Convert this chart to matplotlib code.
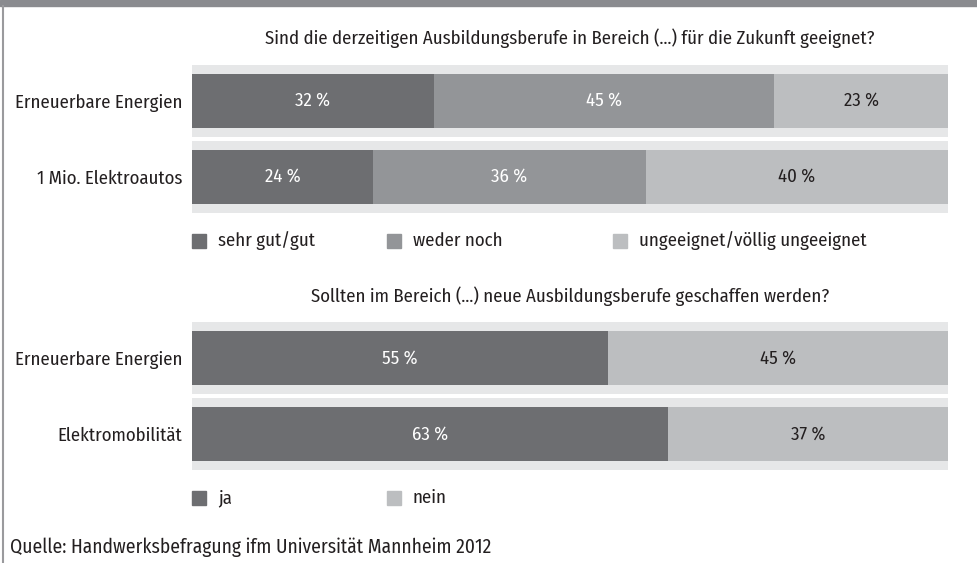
import matplotlib.pyplot as plt
from matplotlib.patches import Rectangle
from matplotlib.lines import Line2D

plt.rcParams['font.family'] = ['Fira Sans Condensed', 'PT Sans Narrow', 'Roboto Condensed', 'DejaVu Sans']

# =========================
# Daten
# =========================

title_top = "Sind die derzeitigen Ausbildungsberufe in Bereich (...) für die Zukunft geeignet?"
cats_top = ["Erneuerbare Energien", "1 Mio. Elektroautos"]
gut = [32, 24]
weder = [45, 36]
ungeeignet = [23, 40]
legend_top = ["sehr gut/gut", "weder noch", "ungeeignet/völlig ungeeignet"]

title_bot = "Sollten im Bereich (...) neue Ausbildungsberufe geschaffen werden?"
cats_bot = ["Erneuerbare Energien", "Elektromobilität"]
ja = [55, 63]
nein = [45, 37]
legend_bot = ["ja", "nein"]

source = "Quelle: Handwerksbefragung ifm Universität Mannheim 2012"

# Farben
c_dark = "#6d6e71"
c_mid = "#939598"
c_light = "#bcbec0"
c_bg = "#e6e7e8"
c_text = "#231f20"

FS = 13.5

W, H = 977, 563
fig = plt.figure(figsize=(W / 100, H / 100), dpi=100)
fig.patch.set_facecolor("white")

# Rahmen oben und links
fig.patches.append(Rectangle((0, 1 - 6 / H), 1, 6 / H, transform=fig.transFigure,
                             color="#8a8b8f", zorder=0))
fig.lines.append(Line2D([3 / W, 3 / W], [0, 1 - 6 / H], transform=fig.transFigure,
                        color="#9a9a9d", lw=1.5))


def stacked(ax, cats, series, colors, txtcolors):
    y = list(range(len(cats)))
    ax.barh(y, [100] * len(cats), height=0.96, left=0, color=c_bg, zorder=1)
    left = [0] * len(cats)
    for vals, col, tc in zip(series, colors, txtcolors):
        bars = ax.barh(y, vals, height=0.70, left=left, color=col, zorder=2)
        for b, v in zip(bars, vals):
            ax.text(b.get_x() + b.get_width() / 2, b.get_y() + b.get_height() / 2,
                    f"{v} %", ha="center", va="center", color=tc, fontsize=FS, zorder=3)
        left = [l + v for l, v in zip(left, vals)]
    ax.set_xlim(0, 100)
    ax.set_ylim(len(cats) - 0.5, -0.5)
    ax.set_yticks(y)
    ax.set_yticklabels(cats, fontsize=FS, color=c_text)
    ax.tick_params(axis="y", length=0, pad=7)
    ax.set_xticks([])
    for s in ax.spines.values():
        s.set_visible(False)


def legend(ax, labels, colors, xs, yoff):
    for lab, col, x in zip(labels, colors, xs):
        ax.add_patch(Rectangle((x, yoff), 14 / 756, 14 / 152, transform=ax.transAxes,
                               color=col, clip_on=False))
        ax.text(x + 26 / 756, yoff + 7 / 152, lab, transform=ax.transAxes,
                ha="left", va="center", fontsize=FS, color=c_text)


# =========================
# Oberes Diagramm
# =========================
ax1 = fig.add_axes([192 / W, 1 - 215 / H, 756 / W, 152 / H])
stacked(ax1, cats_top, [gut, weder, ungeeignet], [c_dark, c_mid, c_light],
        ["white", "white", c_text])
legend(ax1, legend_top, [c_dark, c_mid, c_light],
       [0, (387 - 192) / 756, (613 - 192) / 756], -33 / 152)
fig.text(570 / W, 1 - 38 / H, title_top, ha="center", va="center", fontsize=FS,
         color=c_text)

# =========================
# Unteres Diagramm
# =========================
ax2 = fig.add_axes([192 / W, 1 - 472 / H, 756 / W, 152 / H])
stacked(ax2, cats_bot, [ja, nein], [c_dark, c_light], ["white", c_text])
legend(ax2, legend_bot, [c_dark, c_light], [0, (387 - 192) / 756], -33 / 152)
fig.text(570 / W, 1 - 296 / H, title_bot, ha="center", va="center", fontsize=FS,
         color=c_text)

fig.text(10 / W, 1 - 547 / H, source, ha="left", va="center", fontsize=14,
         color=c_text)

plt.savefig("out.png", dpi=100)
